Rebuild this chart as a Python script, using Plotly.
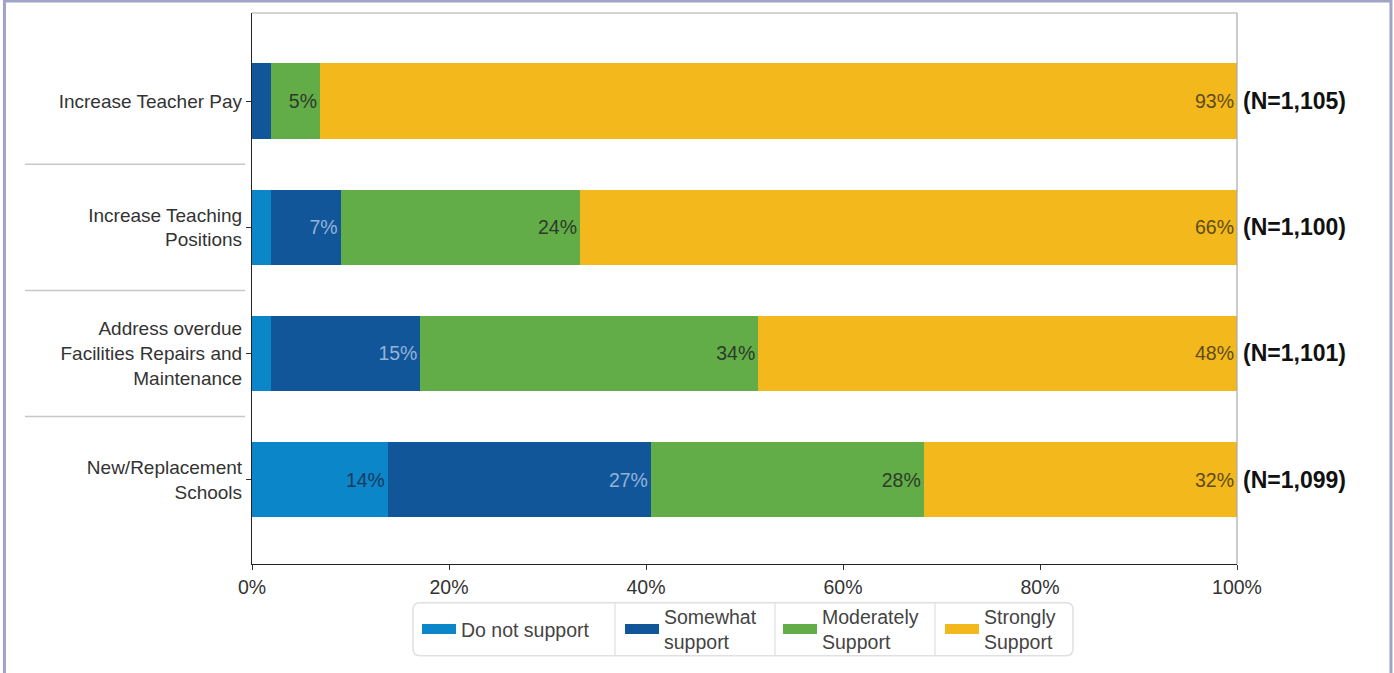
import plotly.graph_objects as go

categories = ["Increase Teacher Pay",
              "Increase Teaching<br>Positions",
              "Address overdue<br>Facilities Repairs and<br>Maintenance",
              "New/Replacement<br>Schools"]
series_names = ["Do not support", "Somewhat<br>support", "Moderately<br>Support", "Strongly<br>Support"]
do_not_support = [0.0, 1.9, 1.9, 13.8]
somewhat_support = [1.9, 7.1, 15.2, 26.7]
moderately_support = [5.0, 24.3, 34.3, 27.7]
strongly_support = [93.1, 66.7, 48.6, 31.8]
do_not_labels = ["", "", "", "14%"]
somewhat_labels = ["", "7%", "15%", "27%"]
moderately_labels = ["5%", "24%", "34%", "28%"]
strongly_labels = ["93%", "66%", "48%", "32%"]
n_labels = ["(N=1,105)", "(N=1,100)", "(N=1,101)", "(N=1,099)"]
x_ticks = [0, 20, 40, 60, 80, 100]
x_tick_text = ["0%", "20%", "40%", "60%", "80%", "100%"]

colors = ["#0b86c9", "#12569a", "#62ad47", "#f3b81c"]
text_colors = ["#1b3a5e", "#93b3d8", "#2e3a2a", "#5e4c18"]
values = [do_not_support, somewhat_support, moderately_support, strongly_support]
labels = [do_not_labels, somewhat_labels, moderately_labels, strongly_labels]

FONT = "Liberation Sans, Arial, sans-serif"

PW, PH = 985.0, 553.0
def px_x(p):
    return (p - 252) / PW
def px_y(p):
    return (566 - p) / PH

legend_ids = ["legend", "legend2", "legend3", "legend4"]
legend_left_px = [417, 620, 778, 940]
sep_px = [615, 775, 935]
bx0, bx1, by0, by1, r = 413, 1073, 605, 658, 7

fig = go.Figure()
for i, (name, vals, labs, col, tcol) in enumerate(zip(series_names, values, labels, colors, text_colors)):
    fig.add_trace(go.Bar(
        y=categories, x=vals, name=name, orientation="h", legendgroup="g%d" % i,
        showlegend=False,
        marker=dict(color=col, line=dict(width=0)),
        text=labs, textposition="inside", insidetextanchor="end",
        textfont=dict(color=tcol, size=19.5, family=FONT),
        constraintext="none", hoverinfo="skip",
    ))
# legend entries with wide rectangular swatches, one legend per entry
for i, (name, col) in enumerate(zip(series_names, colors)):
    fig.add_trace(go.Scatter(
        x=[None], y=[None], mode="lines", name=name, legendgroup="g%d" % i,
        legend=legend_ids[i],
        line=dict(color=col, width=14), hoverinfo="skip", showlegend=True,
    ))

# N annotations
for cat, nl in zip(categories, n_labels):
    fig.add_annotation(x=1.0, xref="paper", y=cat, yref="y", text="<b>%s</b>" % nl,
                       xanchor="left", xshift=4, showarrow=False,
                       font=dict(size=23, color="#111111", family=FONT))

# separators between category labels
for pos in [0.5, 1.5, 2.5]:
    fig.add_shape(type="line", xref="paper", yref="y", x0=-0.2305, x1=-0.007,
                  y0=pos, y1=pos, line=dict(color="#c8c8c8", width=1.5))

# top and right grey frame of plot
fig.add_shape(type="line", xref="paper", yref="paper", x0=0, x1=1, y0=1, y1=1,
              line=dict(color="#a8a8a8", width=1.2))
fig.add_shape(type="line", xref="paper", yref="paper", x0=1, x1=1, y0=0, y1=1,
              line=dict(color="#a8a8a8", width=1.2))

# outer image frame
fig.add_shape(type="rect", xref="paper", yref="paper", x0=-0.2513, x1=1.1563,
              y0=-0.25, y1=1.0217, line=dict(color="#a0a4c6", width=3), layer="below")

# legend box (rounded) and separators
path = ("M {a},{b} L {c},{b} Q {d},{b} {d},{e} L {d},{f} Q {d},{g} {c},{g} "
        "L {a},{g} Q {h},{g} {h},{f} L {h},{e} Q {h},{b} {a},{b} Z").format(
    a=px_x(bx0 + r), b=px_y(by0), c=px_x(bx1 - r), d=px_x(bx1), e=px_y(by0 + r),
    f=px_y(by1 - r), g=px_y(by1), h=px_x(bx0))
fig.add_shape(type="path", xref="paper", yref="paper", path=path,
              line=dict(color="#e0e0e0", width=1.5), fillcolor="white")
for sx in sep_px:
    fig.add_shape(type="line", xref="paper", yref="paper", x0=px_x(sx), x1=px_x(sx),
                  y0=px_y(by0), y1=px_y(by1), line=dict(color="#e0e0e0", width=1.2))

legend_common = dict(orientation="h", xanchor="left", yanchor="middle",
                     y=px_y((by0 + by1) / 2), borderwidth=0, bgcolor="rgba(0,0,0,0)",
                     font=dict(size=19.5, color="#444444", family=FONT),
                     itemwidth=34, valign="middle")
legend_layout = {}
for lid, lx in zip(legend_ids, legend_left_px):
    legend_layout[lid] = dict(legend_common, x=px_x(lx))

fig.update_layout(
    barmode="stack", bargap=0.4,
    width=1394, height=673,
    margin=dict(l=252, r=157, t=13, b=107),
    paper_bgcolor="white", plot_bgcolor="white",
    font=dict(family=FONT, color="#333333"),
    showlegend=True,
    **legend_layout,
)
fig.update_xaxes(range=[0, 100], tickvals=x_ticks, ticktext=x_tick_text,
                 showgrid=False, zeroline=False, showline=True, linecolor="#222222", linewidth=1.2,
                 ticks="outside", ticklen=5, tickcolor="#333333",
                 tickfont=dict(size=19.5, color="#333333", family=FONT), fixedrange=True)
fig.update_yaxes(range=[3.67, -0.70], showgrid=False, zeroline=False,
                 showline=True, linecolor="#222222", linewidth=1.2,
                 ticks="outside", ticklen=5, tickcolor="#333333",
                 tickfont=dict(size=19, color="#333333", family=FONT), fixedrange=True)

fig.write_html("out.html", config={"displayModeBar": False},
               post_script="document.body.style.margin='0';document.body.style.padding='0';")
